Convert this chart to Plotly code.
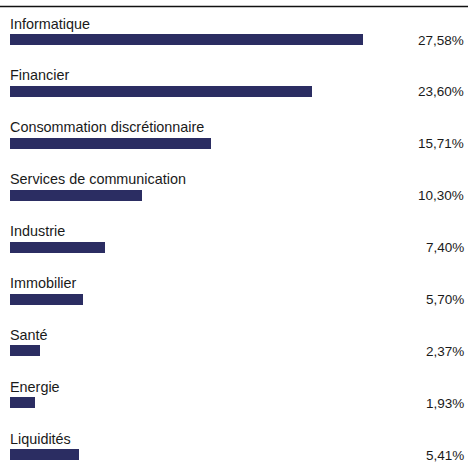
import plotly.graph_objects as go

categories = ["Informatique", "Financier", "Consommation discrétionnaire",
              "Services de communication", "Industrie", "Immobilier",
              "Santé", "Energie", "Liquidités"]
values = [27.58, 23.60, 15.71, 10.30, 7.40, 5.70, 2.37, 1.93, 5.41]
value_labels = ["27,58%", "23,60%", "15,71%", "10,30%", "7,40%", "5,70%",
                "2,37%", "1,93%", "5,41%"]

W, H = 468, 464
px_per_unit = 12.8
left_px = 10
row_px = 51.9
first_center = 39.5

bar_color = "#2b2d62"
font_family = "Liberation Sans, Arial, sans-serif"

fig = go.Figure()
fig.add_trace(go.Bar(
    x=values, y=categories, orientation="h",
    marker=dict(color=bar_color, line=dict(width=0)),
    width=11 / row_px, hoverinfo="skip",
))

for cat, lab in zip(categories, value_labels):
    fig.add_annotation(x=0, y=cat, xref="x", yref="y", text=cat,
                       showarrow=False, xanchor="left", yanchor="middle",
                       xshift=-2, yshift=16, font=dict(size=14.4, color="#1a1a1a", family=font_family))
    fig.add_annotation(x=1, y=cat, xref="paper", yref="y", text=lab,
                       showarrow=False, xanchor="right", yanchor="middle",
                       xshift=-2, yshift=-0.5, font=dict(size=13.5, color="#1a1a1a", family=font_family))

fig.add_shape(type="line", xref="paper", yref="paper", x0=0, x1=1,
              y0=1 - 6.6 / H, y1=1 - 6.6 / H, line=dict(color="#111111", width=1.5))

ymin = -first_center / row_px
ymax = ymin + H / row_px
fig.update_layout(
    width=W, height=H,
    margin=dict(l=0, r=0, t=0, b=0),
    paper_bgcolor="white", plot_bgcolor="white",
    showlegend=False,
    xaxis=dict(range=[-left_px / px_per_unit, (W - left_px) / px_per_unit],
               visible=False, fixedrange=True),
    yaxis=dict(type="category", range=[ymax, ymin], visible=False, fixedrange=True),
    bargap=0,
)
fig.write_html("out.html", config={"displayModeBar": False},
               post_script="document.body.style.margin='0';document.body.style.overflow='hidden';")
